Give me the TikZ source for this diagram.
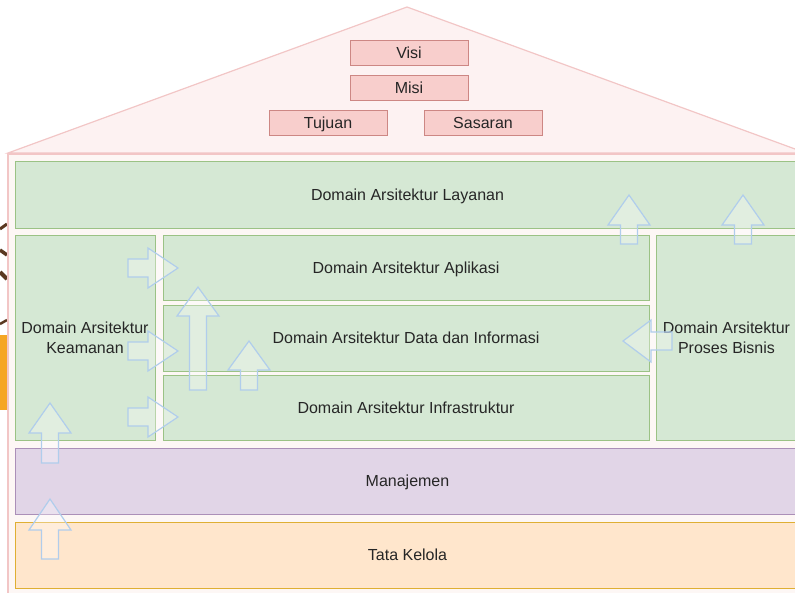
\documentclass[tikz,border=0pt]{standalone}
\usepackage{fontspec}
\setmainfont{Liberation Sans}
\definecolor{roofline}{HTML}{F2C6C6}
\definecolor{rooffill}{HTML}{FDF2F2}
\definecolor{bodyfill}{HTML}{FDF7F5}
\definecolor{redfill}{HTML}{F8CECC}
\definecolor{redline}{HTML}{B85450}
\definecolor{greenfill}{HTML}{D5E8D4}
\definecolor{greenline}{HTML}{82B366}
\definecolor{purplefill}{HTML}{E1D5E7}
\definecolor{purpleline}{HTML}{9673A6}
\definecolor{orangefill}{HTML}{FFE6CC}
\definecolor{orangeline}{HTML}{D79B00}
\definecolor{arrowline}{HTML}{B0CDEC}
\definecolor{brownart}{HTML}{5A3820}
\definecolor{orangeart}{HTML}{F5A623}
\tikzset{
  box/.style={rectangle, inner sep=0pt, align=center, font=\fontsize{16}{20}\selectfont, text=black!85},
  oneline/.style={text height=11.5pt, text depth=0pt},
  redbox/.style={box, oneline, fill=redfill, draw=redline!70, line width=0.8pt, minimum width=118pt, minimum height=25pt},
  greenbox/.style={box, fill=greenfill, draw=greenline!80, line width=0.7pt},
  purplebox/.style={box, oneline, fill=purplefill, draw=purpleline!80, line width=0.7pt},
  orangebox/.style={box, oneline, fill=orangefill, draw=orangeline!80, line width=0.7pt},
  blockarrow/.style={draw=arrowline, line width=1.2pt, fill=white, fill opacity=0.3, line join=miter},
}
\newcommand\UpArr[4]{% cx, tip, headbase, bottom
  \filldraw[blockarrow] (#1,#2) -- (#1+21,#3) -- (#1+8.5,#3) -- (#1+8.5,#4) -- (#1-8.5,#4) -- (#1-8.5,#3) -- (#1-21,#3) -- cycle;}
\newcommand\RightArr[2]{% tipx, cy
  \filldraw[blockarrow] (#1,#2) -- (#1-30,#2-20) -- (#1-30,#2-9) -- (#1-50,#2-9) -- (#1-50,#2+9) -- (#1-30,#2+9) -- (#1-30,#2+20) -- cycle;}
\newcommand\LeftArr[2]{% tipx, cy
  \filldraw[blockarrow] (#1,#2) -- (#1+28,#2-21) -- (#1+28,#2-9) -- (#1+49,#2-9) -- (#1+49,#2+9) -- (#1+28,#2+9) -- (#1+28,#2+21) -- cycle;}
\begin{document}
\begin{tikzpicture}[x=1pt,y=-1pt]
\useasboundingbox (0,0) rectangle (795,592);
% stray fragments at left edge
\fill[orangeart] (0,335) rectangle (7,410);
\draw[brownart, line width=3pt] (0,229) -- (7,224);
\draw[brownart, line width=3.5pt] (0,250) -- (7,255);
\draw[brownart, line width=4pt] (0,272) -- (7,279);
\draw[brownart, line width=2.5pt] (0,324) -- (7,320);
% house
\filldraw[fill=rooffill, draw=roofline, line width=1.2pt] (8,153) -- (407,7) -- (806,153) -- cycle;
\filldraw[fill=bodyfill, draw=roofline, line width=1.2pt] (8,154) rectangle (812,600);
% roof boxes
\node[redbox] (visi) at (409,52.5) {Visi};
\node[redbox] (misi) at (409,87.5) {Misi};
\node[redbox] (tujuan) at (328,122.5) {Tujuan};
\node[redbox] (sasaran) at (483,122.5) {Sasaran};
% layers
\node[greenbox, oneline, minimum width=785pt, minimum height=67pt] (layanan) at (407.5,194.5) {Domain Arsitektur Layanan};
\node[greenbox, minimum width=140pt, minimum height=205pt] (keamanan) at (85,338) {Domain Arsitektur\\Keamanan};
\node[greenbox, oneline, minimum width=486pt, minimum height=65pt] (aplikasi) at (406,267.5) {Domain Arsitektur Aplikasi};
\node[greenbox, oneline, minimum width=486pt, minimum height=66pt] (data) at (406,338) {Domain Arsitektur Data dan Informasi};
\node[greenbox, oneline, minimum width=486pt, minimum height=65pt] (infra) at (406,407.5) {Domain Arsitektur Infrastruktur};
\node[greenbox, minimum width=141pt, minimum height=205pt] (proses) at (726.5,338) {Domain Arsitektur\\Proses Bisnis};
\node[purplebox, minimum width=785pt, minimum height=66pt] (manajemen) at (407.5,481) {Manajemen};
\node[orangebox, minimum width=785pt, minimum height=66pt] (tata) at (407.5,555) {Tata Kelola};
% block arrows
\RightArr{178}{268}
\RightArr{178}{351}
\RightArr{178}{417}
\UpArr{198}{287}{316}{390}
\UpArr{249}{341}{370}{390}
\UpArr{629}{195}{225}{244}
\UpArr{743}{195}{225}{244}
\UpArr{50}{403}{433}{463}
\UpArr{50}{499}{530}{559}
\LeftArr{623}{341}
\end{tikzpicture}
\end{document}
